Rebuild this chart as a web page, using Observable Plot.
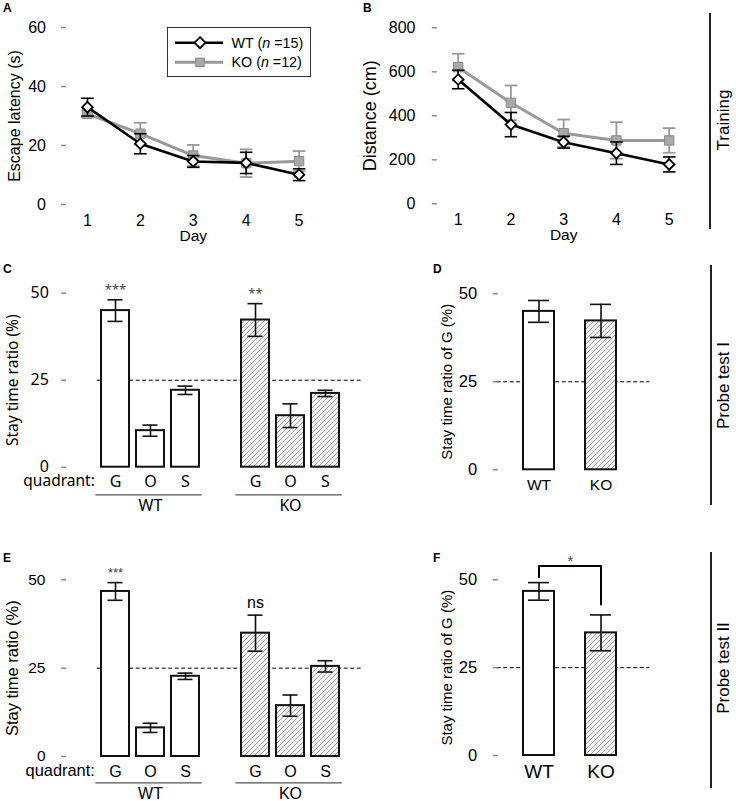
<!DOCTYPE html>
<html><head><meta charset="utf-8">
<script src="https://cdn.jsdelivr.net/npm/d3@7"></script>
<script src="https://cdn.jsdelivr.net/npm/@observablehq/plot@0.6"></script>
<style>
body{margin:0;background:#fff;}
#fig{position:relative;width:736px;height:801px;overflow:hidden;font-family:"Liberation Sans",Arial,sans-serif;}
.panel{position:absolute;}
.panel svg{overflow:visible;}
#overlay{position:absolute;left:0;top:0;pointer-events:none;}
</style></head><body><div id="fig"></div>
<script>
// ---------- data ----------
const days = [1, 2, 3, 4, 5];
const wtLatency = [33.0, 20.6, 14.6, 14.1, 10.1];
const wtLatencySE = [3.0, 3.4, 2.0, 3.6, 2.0];
const koLatency = [30.7, 24.0, 16.6, 14.0, 14.7];
const koLatencySE = [1.2, 3.7, 3.6, 4.7, 3.4];
const wtDistance = [565, 360, 280, 230, 179];
const wtDistanceSE = [42, 55, 27, 51, 34];
const koDistance = [621, 459, 321, 288, 288];
const koDistanceSE = [61, 79, 62, 83, 56];
const latencyTicks = [0, 20, 40, 60];
const distanceTicks = [0, 200, 400, 600, 800];

const groups = ["WT", "KO"];
const groupN = [15, 12];
const quadrants = ["G", "O", "S"];
const probe1WT = [45.0, 10.5, 22.1];
const probe1WTSE = [3.1, 1.6, 1.2];
const probe1KO = [42.3, 14.8, 21.2];
const probe1KOSE = [4.7, 3.4, 0.9];
const probe1Sig = [["***", "", ""], ["**", "", ""]];
const probe2WT = [46.7, 8.1, 22.7];
const probe2WTSE = [2.5, 1.3, 0.9];
const probe2KO = [34.9, 14.4, 25.5];
const probe2KOSE = [5.1, 3.0, 1.6];
const probe2Sig = [["***", "", ""], ["ns", "", ""]];
const ratioTicks = [0, 25, 50];
const chanceLevel = 25;
const probe2Bracket = {from: "WT", to: "KO", top: 53.9, fromEnd: 50.7, toEnd: 43.0, label: "*"};

// ---------- helpers ----------
const ARIAL = '"Liberation Sans", Arial, sans-serif';
const SEGOE = '"Noto Sans", "Open Sans", sans-serif';
const AX = "#8c8c8c";
const KO_LINE = "#999999", KO_FILL = "#a8a8a8";
const capSym = {draw(ctx, size) { const w = Math.sqrt(size / Math.PI); ctx.moveTo(-w, 0); ctx.lineTo(w, 0); }};
const inTickSym = {draw(ctx, size) { const w = Math.sqrt(size / Math.PI); ctx.moveTo(0, 0); ctx.lineTo(w, 0); }};
const fig = document.getElementById("fig");
function place(svg, left, top) {
  const d = document.createElement("div");
  d.className = "panel"; d.style.left = left + "px"; d.style.top = top + "px";
  d.appendChild(svg); fig.appendChild(d);
}
const styleFor = (font) => ({fontFamily: font, fontSize: "15px", background: "none", overflow: "visible", color: "#000"});

function trainingPanel(o) {
  const mk = (g, m, s) => days.map((d, i) => ({day: d, group: g, mean: m[i], lo: m[i] - s[i], hi: m[i] + s[i]}));
  const W = mk("WT", o.wt, o.wtSE), K = mk("KO", o.ko, o.koSE);
  const err = (data, color, sw) => [
    Plot.ruleX(data, {x: "day", y1: "lo", y2: "hi", stroke: color, strokeWidth: sw}),
    Plot.dot(data, {x: "day", y: "hi", symbol: capSym, r: 6.3, stroke: color, fill: "none", strokeWidth: sw}),
    Plot.dot(data, {x: "day", y: "lo", symbol: capSym, r: 6.3, stroke: color, fill: "none", strokeWidth: sw})
  ];
  return Plot.plot({
    width: o.width, height: o.height,
    marginTop: o.mt, marginRight: o.mr, marginBottom: o.mb, marginLeft: o.ml,
    style: styleFor(ARIAL),
    x: {type: "linear", domain: [0.5, o.xEnd]},
    y: {type: "linear", domain: [o.yTicks[0], o.yTicks[o.yTicks.length - 1]]},
    marks: [
      Plot.axisY({ticks: o.yTicks, tickSize: 0, tickPadding: o.yPad, line: true, stroke: AX, fill: "#000", fontSize: 16, label: null}),
      Plot.dot(o.yTicks, {y: d => d, frameAnchor: "left", symbol: inTickSym, r: 5, stroke: AX, fill: "none"}),
      Plot.axisX({ticks: days, tickSize: 0, tickPadding: 10, line: true, stroke: AX, fill: "#000", fontSize: 16, label: null, tickFormat: d => String(d)}),
      Plot.text(["Day"], {x: () => days[2], frameAnchor: "bottom", dy: 36.5, text: d => d, fontSize: 15.5}),
      Plot.text([o.yLabel], {frameAnchor: "left", textAnchor: "middle", rotate: -90, dx: o.labelDx, text: d => d, fontSize: o.labelFont}),
      Plot.line(K, {x: "day", y: "mean", stroke: KO_LINE, strokeWidth: 3}),
      ...err(K, KO_LINE, 1.8),
      Plot.dot(K, {x: "day", y: "mean", symbol: "square", r: 5.3, fill: KO_FILL, stroke: "#8a8a8a", strokeWidth: 1}),
      Plot.line(W, {x: "day", y: "mean", stroke: "#000", strokeWidth: 2.6}),
      ...err(W, "#000", 1.6),
      Plot.dot(W, {x: "day", y: "mean", symbol: "diamond2", r: 4.8, fill: "#fff", stroke: "#000", strokeWidth: 1.8})
    ]
  });
}

function quadrantPanel(o) {
  const domain = ["gap0"], rows = [], groupRows = [];
  groups.forEach((g, gi) => {
    const keys = quadrants.map(q => `${g}-${q}`);
    quadrants.forEach((q, qi) => {
      const m = o.means[gi][qi], s = o.ses[gi][qi];
      rows.push({key: keys[qi], group: g, quadrant: q, mean: m, lo: m - s, hi: m + s, sig: o.sig[gi][qi]});
    });
    domain.push(...keys, `gap${gi + 1}`);
    groupRows.push({group: g, first: keys[0], mid: keys[1], last: keys[2]});
  });
  const qOf = new Map(rows.map(r => [r.key, r.quadrant]));
  const f = o.fonts;
  return Plot.plot({
    width: o.width, height: o.height,
    marginTop: o.mt, marginRight: o.mr, marginBottom: o.mb, marginLeft: o.ml,
    style: styleFor(f.family),
    x: {type: "band", domain, paddingInner: 0.2, paddingOuter: 0.1},
    y: {type: "linear", domain: [0, 50]},
    marks: [
      Plot.ruleY([chanceLevel], {y: d => d, stroke: "#000", strokeWidth: 1, strokeDasharray: "4,2.5", insetLeft: 36, insetRight: 17}),
      Plot.barY(rows.filter(d => d.group === "WT"), {x: "key", y: "mean", fill: "#fff", stroke: "#111", strokeWidth: 2}),
      Plot.barY(rows.filter(d => d.group === "KO"), {x: "key", y: "mean", fill: "url(#hatch)", stroke: "#111", strokeWidth: 2}),
      Plot.ruleX(rows, {x: "key", y1: "lo", y2: "hi", stroke: "#111", strokeWidth: 1.6}),
      Plot.tickY(rows, {x: "key", y: "hi", stroke: "#111", strokeWidth: 1.6, insetLeft: 6.5, insetRight: 6.5}),
      Plot.tickY(rows, {x: "key", y: "lo", stroke: "#111", strokeWidth: 1.6, insetLeft: 6.5, insetRight: 6.5}),
      Plot.text(rows.filter(d => d.sig.includes("*")), {x: "key", y: "hi", text: "sig", dy: -10, fontSize: 13, fill: "#444"}),
      Plot.text(rows.filter(d => d.sig && !d.sig.includes("*")), {x: "key", y: "hi", text: "sig", dy: -12, fontSize: 16, fill: "#000"}),
      Plot.axisY({ticks: ratioTicks, tickSize: 0, tickPadding: o.yPad, line: true, stroke: AX, fill: "#000", fontSize: f.tick, label: null}),
      Plot.dot(ratioTicks, {y: d => d, frameAnchor: "left", symbol: inTickSym, r: 5, stroke: AX, fill: "none"}),
      Plot.axisX({ticks: rows.map(r => r.key), tickFormat: k => qOf.get(k), tickSize: 0, tickPadding: o.xPad, line: true, stroke: AX, fill: "#000", fontSize: f.quad, label: null}),
      Plot.text(["quadrant:"], {x: () => domain[0], y: () => 0, text: d => d, textAnchor: "end", dx: 14.3, dy: o.qDy, fontSize: f.qlabel}),
      Plot.ruleY(groupRows, {y: () => 0, x1: "first", x2: "last", dy: o.lineDy, insetLeft: -5.6, insetRight: -2.8, stroke: "#555", strokeWidth: 1.3}),
      Plot.text(groupRows, {x: "mid", y: () => 0, text: "group", dy: o.groupDy, fontSize: f.group}),
      Plot.text(["Stay time ratio (%)"], {frameAnchor: "left", textAnchor: "middle", rotate: -90, dx: o.labelDx, text: d => d, fontSize: f.label})
    ]
  });
}

function gPanel(o) {
  const rows = groups.map((g, gi) => ({group: g, mean: o.means[gi], lo: o.means[gi] - o.ses[gi], hi: o.means[gi] + o.ses[gi]}));
  const marks = [
    Plot.ruleY([chanceLevel], {y: d => d, stroke: "#000", strokeWidth: 1, strokeDasharray: "4,2.5", insetLeft: 4.4, insetRight: -2}),
    Plot.barY(rows.filter(d => d.group === "WT"), {x: "group", y: "mean", fill: "#fff", stroke: "#111", strokeWidth: 2}),
    Plot.barY(rows.filter(d => d.group === "KO"), {x: "group", y: "mean", fill: "url(#hatch)", stroke: "#111", strokeWidth: 2}),
    Plot.ruleX(rows, {x: "group", y1: "lo", y2: "hi", stroke: "#111", strokeWidth: 1.6}),
    Plot.tickY(rows, {x: "group", y: "hi", stroke: "#111", strokeWidth: 1.6, insetLeft: 5, insetRight: 5}),
    Plot.tickY(rows, {x: "group", y: "lo", stroke: "#111", strokeWidth: 1.6, insetLeft: 5, insetRight: 5}),
    Plot.axisY({ticks: ratioTicks, tickSize: 0, tickPadding: 15.6, line: true, stroke: AX, fill: "#000", fontSize: 16.5, label: null}),
    Plot.dot(ratioTicks, {y: d => d, frameAnchor: "left", symbol: inTickSym, r: 5, stroke: AX, fill: "none"}),
    Plot.axisX({ticks: groups, tickSize: 0, tickPadding: o.xPad, line: true, stroke: AX, fill: "#000", fontSize: o.xFont, label: null}),
    Plot.text(["Stay time ratio of G (%)"], {frameAnchor: "left", textAnchor: "middle", rotate: -90, dx: -45.8, text: d => d, fontSize: 15})
  ];
  if (o.bracket) {
    const b = o.bracket;
    marks.push(
      Plot.line([{x: b.from, y: b.fromEnd}, {x: b.from, y: b.top}, {x: b.to, y: b.top}, {x: b.to, y: b.toEnd}], {x: "x", y: "y", stroke: "#000", strokeWidth: 2, curve: "linear"}),
      Plot.text([b], {frameAnchor: "middle", y: "top", text: "label", dy: -4.5, fontSize: 15, fill: "#444"})
    );
  }
  return Plot.plot({
    width: o.width, height: o.height,
    marginTop: o.mt, marginRight: o.mr, marginBottom: o.mb, marginLeft: o.ml,
    style: styleFor(ARIAL),
    x: {type: "band", domain: groups, padding: 0.5},
    y: {type: "linear", domain: [0, 50]},
    marks
  });
}

// ---------- panels ----------
place(trainingPanel({wt: wtLatency, wtSE: wtLatencySE, ko: koLatency, koSE: koLatencySE, yTicks: latencyTicks,
  yLabel: "Escape latency (s)", xEnd: 5.5, width: 345, height: 250, mt: 27, mr: 20, mb: 46, ml: 60.5,
  yPad: 15, labelDx: -46.5, labelFont: 16}), 0, 0);
place(trainingPanel({wt: wtDistance, wtSE: wtDistanceSE, ko: koDistance, koSE: koDistanceSE, yTicks: distanceTicks,
  yLabel: "Distance (cm)", xEnd: 5.12, width: 340, height: 250, mt: 27.3, mr: 25, mb: 46.7, ml: 71.3,
  yPad: 16.3, labelDx: -61.3, labelFont: 18}), 360, 0);

place(quadrantPanel({means: [probe1WT, probe1KO], ses: [probe1WTSE, probe1KOSE], sig: probe1Sig,
  width: 390, height: 260, mt: 32.7, mr: 10, mb: 53.3, ml: 60.7, yPad: 12.4, xPad: 8.6, qDy: 14.3, lineDy: 27.6, groupDy: 38.3, labelDx: -47.7,
  fonts: {family: SEGOE, tick: 16, quad: 16, qlabel: 15.5, group: 16, label: 15.5}}), 0, 260);
place(gPanel({means: [probe1WT[0], probe1KO[0]], ses: [probe1WTSE[0], probe1KOSE[0]],
  width: 300, height: 260, mt: 33.3, mr: 12.7, mb: 50.7, ml: 132.3, xPad: 9.3, xFont: 15.5}), 360, 260);

place(quadrantPanel({means: [probe2WT, probe2KO], ses: [probe2WTSE, probe2KOSE], sig: probe2Sig,
  width: 390, height: 270, mt: 49.3, mr: 10, mb: 44, ml: 60.7, yPad: 15.7, xPad: 9, qDy: 14.7, lineDy: 26.3, groupDy: 37.3, labelDx: -48.2,
  fonts: {family: ARIAL, tick: 15.5, quad: 16, qlabel: 16.4, group: 16, label: 16.5}}), 0, 530);
place(gPanel({means: [probe2WT[0], probe2KO[0]], ses: [probe2WTSE[0], probe2KOSE[0]], bracket: probe2Bracket,
  width: 300, height: 270, mt: 49.3, mr: 12.7, mb: 45, ml: 132.3, xPad: 8.9, xFont: 19}), 360, 530);

// ---------- overlay: pattern, panel letters, legend, side labels ----------
const ov = `
<svg id="overlay" width="736" height="801" xmlns="http://www.w3.org/2000/svg" font-family='"Liberation Sans", Arial, sans-serif'>
  <defs>
    <pattern id="hatch" patternUnits="userSpaceOnUse" width="5" height="5">
      <rect width="5" height="5" fill="#f4f4f4"/>
      <path d="M-1,1 l2,-2 M0,5 l5,-5 M4,6 l2,-2" stroke="#a3a3a3" stroke-width="1"/>
    </pattern>
  </defs>
  <g font-weight="bold" font-size="12">
    <text x="3" y="12">A</text><text x="363" y="12">B</text>
    <text x="3" y="273">C</text><text x="433" y="273">D</text>
    <text x="3" y="562">E</text><text x="433" y="562">F</text>
  </g>
  <g>
    <rect x="167.5" y="27.5" width="143" height="49" fill="#fff" stroke="#333" stroke-width="1"/>
    <line x1="175" x2="223" y1="42.7" y2="42.7" stroke="#000" stroke-width="2.6"/>
    <path d="M200,37.2 L205.5,42.7 L200,48.2 L194.5,42.7 Z" fill="#fff" stroke="#000" stroke-width="1.8"/>
    <line x1="175" x2="223" y1="62.3" y2="62.3" stroke="${KO_LINE}" stroke-width="3"/>
    <rect x="195.8" y="58.1" width="8.4" height="8.4" fill="${KO_FILL}" stroke="#8a8a8a" stroke-width="1"/>
    <text x="231.5" y="42.7" dy="0.35em" font-size="14.3">${groups[0]} (<tspan font-style="italic">n</tspan> =${groupN[0]})</text>
    <text x="231.5" y="62.3" dy="0.35em" font-size="14.3">${groups[1]} (<tspan font-style="italic">n</tspan> =${groupN[1]})</text>
  </g>
  <g stroke="#222" stroke-width="2">
    <line x1="710" x2="710" y1="13" y2="229"/>
    <line x1="711" x2="711" y1="265" y2="505"/>
    <line x1="711" x2="711" y1="552" y2="788"/>
  </g>
  <g font-size="17" text-anchor="middle" fill="#000">
    <text transform="translate(723,120) rotate(-90)" dy="0.35em">Training</text>
    <text transform="translate(723,385.5) rotate(-90)" dy="0.35em">Probe test I</text>
    <text transform="translate(723,668) rotate(-90)" dy="0.35em">Probe test II</text>
  </g>
</svg>`;
fig.insertAdjacentHTML("beforeend", ov);
</script>
</body></html>
